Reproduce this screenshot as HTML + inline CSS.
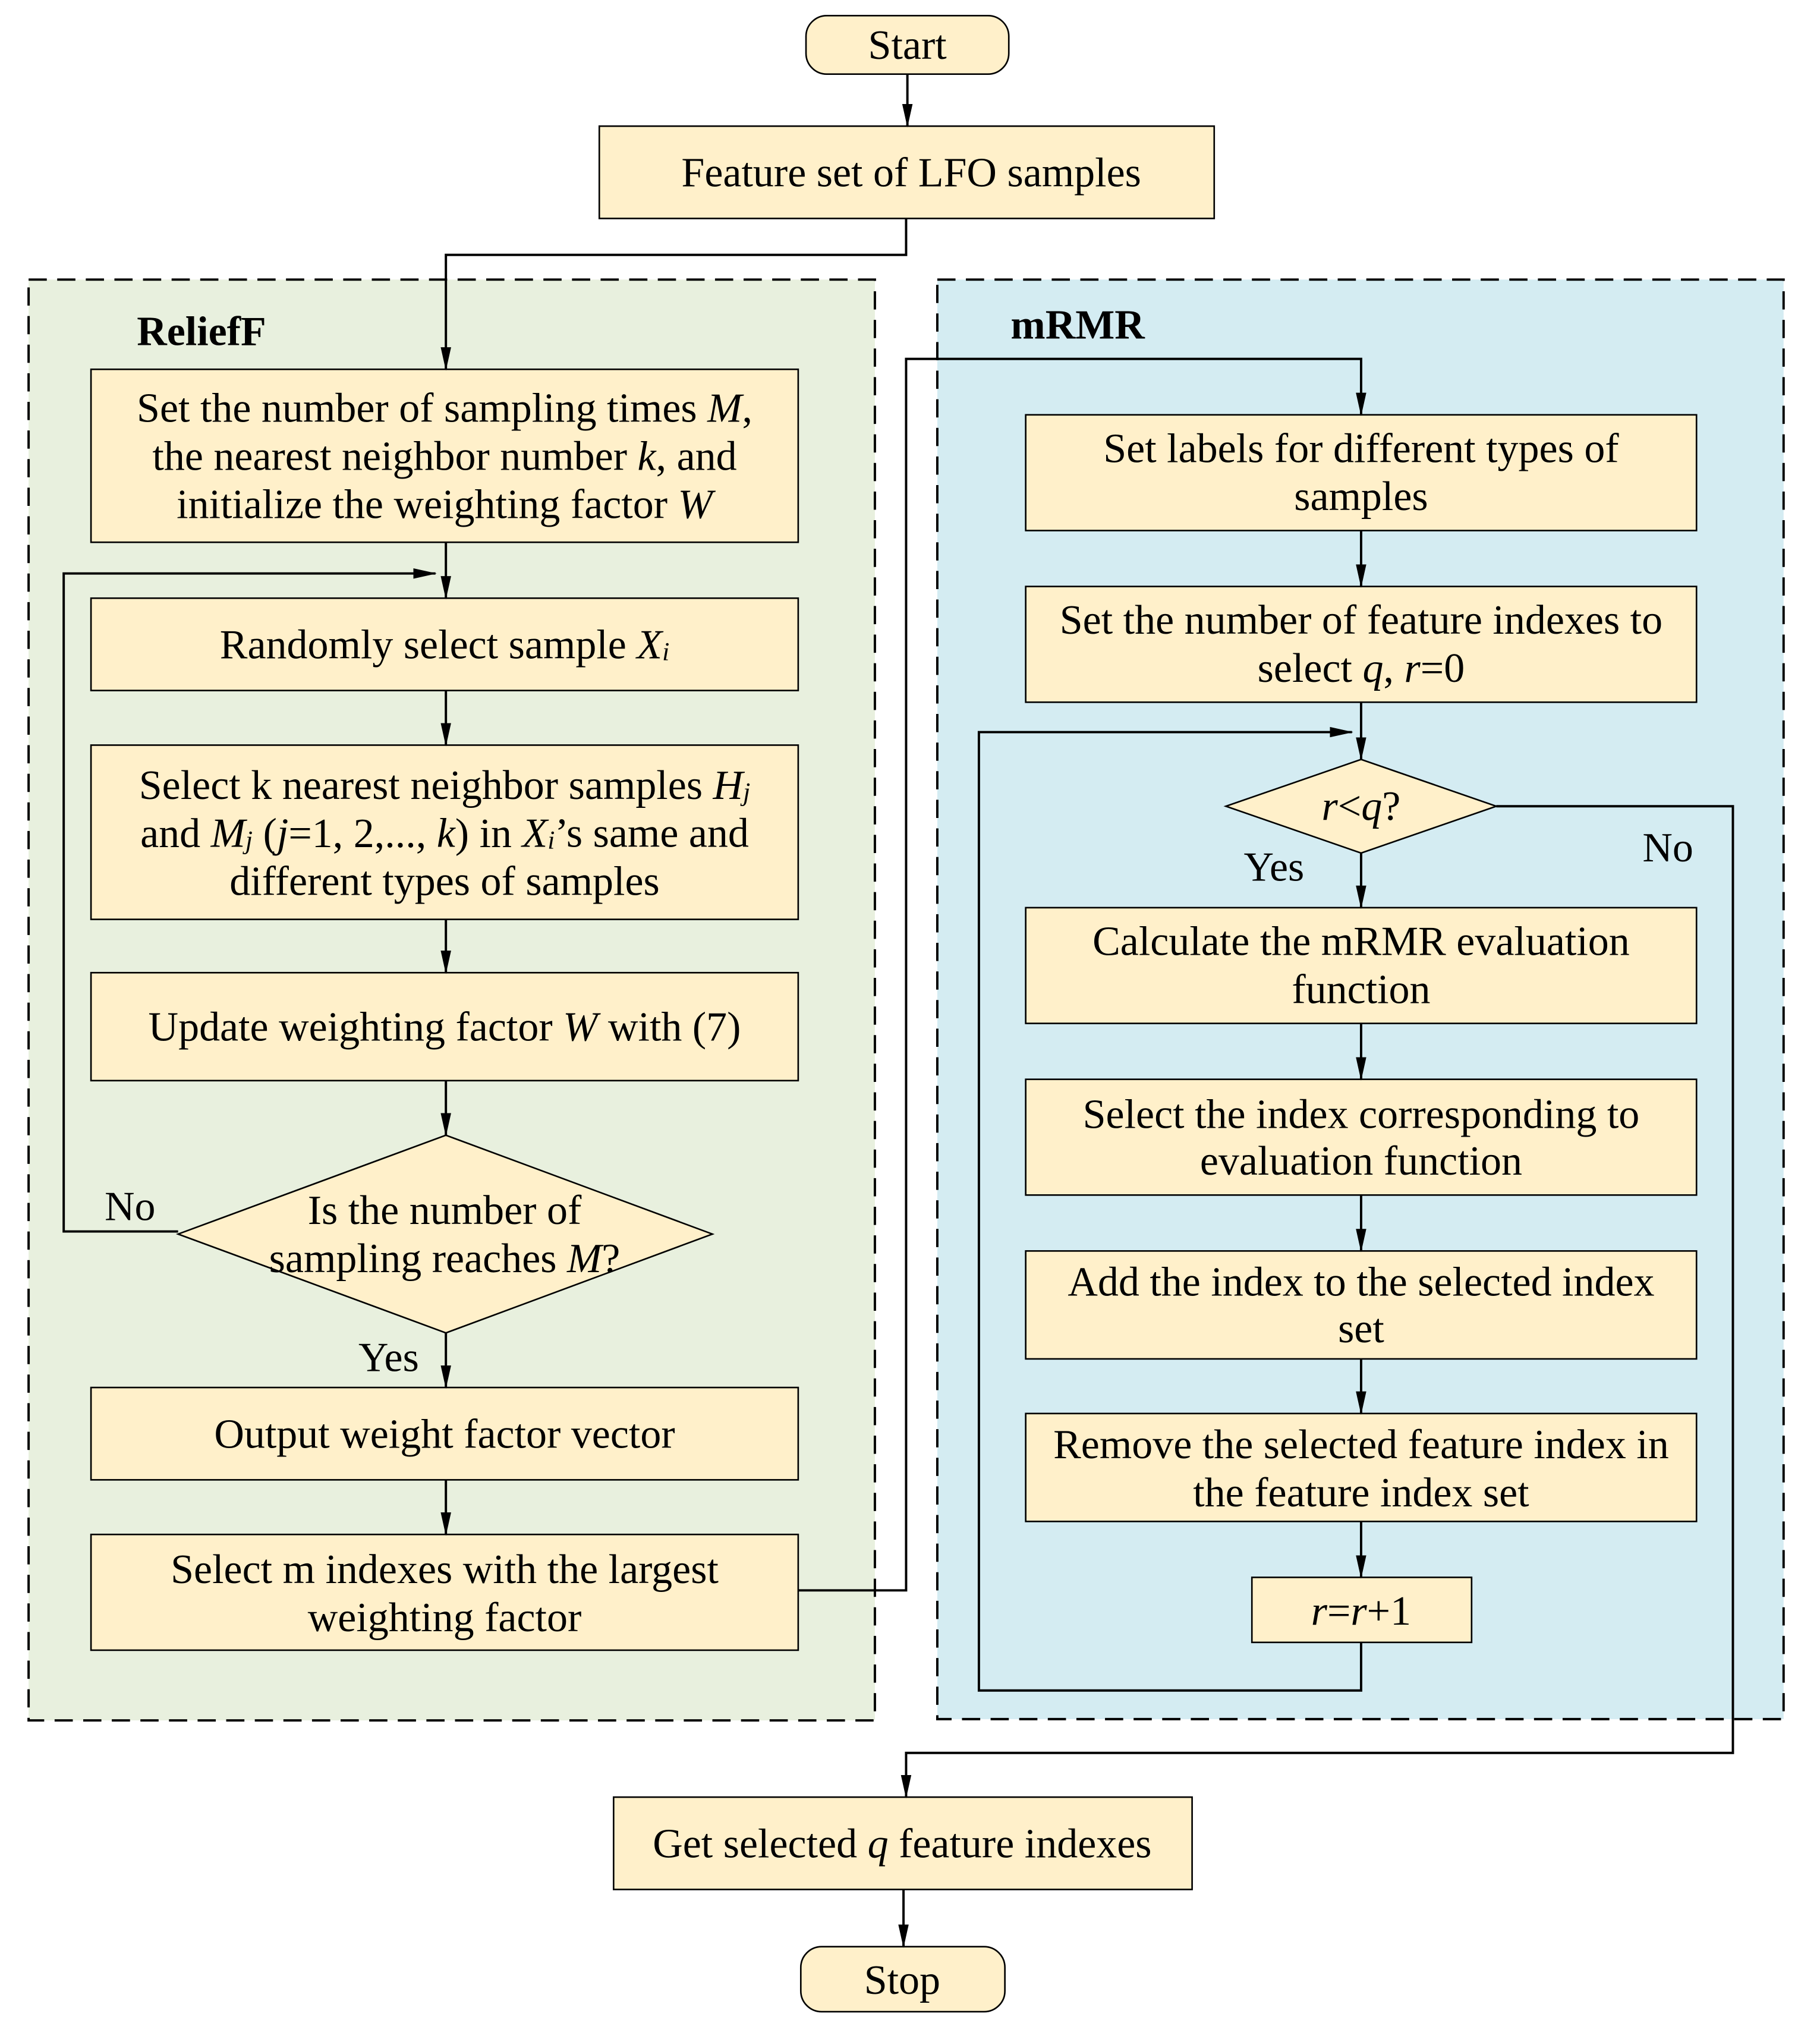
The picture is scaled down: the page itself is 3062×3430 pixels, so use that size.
<!DOCTYPE html>
<html><head><meta charset="utf-8"><style>
html,body{margin:0;padding:0;background:#fff;}
svg{display:block;}
text{font-family:"Liberation Serif",serif;font-size:32px;fill:#000;text-anchor:middle;dominant-baseline:middle;transform:translateY(3px);}
.i{font-style:italic;}
.b{fill:#FFF0CA;stroke:#000;stroke-width:1.2;}
.l{fill:none;stroke:#000;stroke-width:1.8;}
</style></head><body>
<svg width="3062" height="3430" viewBox="0 0 1400 1568" preserveAspectRatio="none" xmlns="http://www.w3.org/2000/svg">
<defs>
<marker id="h" markerWidth="18" markerHeight="10" refX="17" refY="5" orient="auto" markerUnits="userSpaceOnUse"><path d="M0,1 L18,5 L0,9 z" fill="#000"/></marker></defs>
<rect x="22" y="215" width="651" height="1108" fill="#E8F0DE" stroke="#000" stroke-width="1.8" stroke-dasharray="14,8"/>
<rect x="721" y="215" width="651" height="1107" fill="#D4ECF2" stroke="#000" stroke-width="1.8" stroke-dasharray="14,8"/>
<text x="155" y="255" style="font-weight:bold">ReliefF</text>
<text x="829" y="250" style="font-weight:bold">mRMR</text>
<rect class="b" x="620" y="12" width="156" height="45" rx="16"/><text x="698" y="35">Start</text>
<rect class="b" x="461" y="97" width="473" height="71"/><text x="701" y="133">Feature set of LFO samples</text>
<rect class="b" x="70" y="284" width="544" height="133"/>
<text x="342" y="314">Set the number of sampling times <tspan class="i">M</tspan>,</text>
<text x="342" y="351">the nearest neighbor number <tspan class="i">k</tspan>, and</text>
<text x="342" y="388">initialize the weighting factor <tspan class="i">W</tspan></text>
<rect class="b" x="70" y="460" width="544" height="71"/><text x="342" y="496">Randomly select sample <tspan class="i">X<tspan font-size="20" dy="4">i</tspan></tspan></text>
<rect class="b" x="70" y="573" width="544" height="134"/>
<text x="342" y="604">Select k nearest neighbor samples <tspan class="i">H<tspan font-size="20" dy="4">j</tspan></tspan></text>
<text x="342" y="641">and <tspan class="i">M<tspan font-size="20" dy="4">j</tspan></tspan><tspan dy="-4"> (</tspan><tspan class="i">j</tspan>=1, 2,..., <tspan class="i">k</tspan>) in <tspan class="i">X<tspan font-size="20" dy="4">i</tspan></tspan><tspan dy="-4">’s same and</tspan></text>
<text x="342" y="678">different types of samples</text>
<rect class="b" x="70" y="748" width="544" height="83"/><text x="342" y="790">Update weighting factor <tspan class="i">W</tspan> with  (7)</text>
<polygon class="b" points="343,873 548,949 343,1025 137,949"/>
<text x="342" y="931">Is the number of</text>
<text x="342" y="968">sampling reaches <tspan class="i">M</tspan>?</text>
<text x="100" y="928">No</text><text x="299" y="1044">Yes</text>
<rect class="b" x="70" y="1067" width="544" height="71"/><text x="342" y="1103">Output weight factor vector</text>
<rect class="b" x="70" y="1180" width="544" height="89"/>
<text x="342" y="1207">Select m indexes with the largest</text>
<text x="342" y="1244">weighting factor</text>
<rect class="b" x="789" y="319" width="516" height="89"/><text x="1047" y="345">Set labels for different types of</text><text x="1047" y="382">samples</text>
<rect class="b" x="789" y="451" width="516" height="89"/><text x="1047" y="477">Set the number of feature indexes to</text><text x="1047" y="514">select <tspan class="i">q</tspan>, <tspan class="i">r</tspan>=0</text>
<polygon class="b" points="1047,584 1151,620 1047,656 943,620"/>
<text x="1047" y="620"><tspan class="i">r</tspan>&lt;<tspan class="i">q</tspan>?</text>
<text x="980" y="667">Yes</text><text x="1283" y="652">No</text>
<rect class="b" x="789" y="698" width="516" height="89"/><text x="1047" y="724">Calculate the mRMR evaluation</text><text x="1047" y="761">function</text>
<rect class="b" x="789" y="830" width="516" height="89"/><text x="1047" y="857">Select the index corresponding to</text><text x="1047" y="893">evaluation function</text>
<rect class="b" x="789" y="962" width="516" height="83"/><text x="1047" y="986">Add the index to the selected index</text><text x="1047" y="1022">set</text>
<rect class="b" x="789" y="1087" width="516" height="83"/><text x="1047" y="1111">Remove the selected feature index in</text><text x="1047" y="1148">the feature index set</text>
<rect class="b" x="963" y="1213" width="169" height="50"/><text x="1047" y="1239"><tspan class="i">r</tspan>=<tspan class="i">r</tspan>+1</text>
<rect class="b" x="472" y="1382" width="445" height="71"/><text x="694" y="1418">Get selected <tspan class="i">q</tspan> feature indexes</text>
<rect class="b" x="616" y="1497" width="157" height="50" rx="16"/><text x="694" y="1523">Stop</text>
<g class="l" marker-end="url(#h)">
<path d="M698,57 V97"/>
<path d="M697,168 V196 H343 V284"/>
<path d="M343,417 V460"/>
<path d="M137,947 H49 V441 H335"/>
<path d="M343,531 V573"/>
<path d="M343,707 V748"/>
<path d="M343,831 V873"/>
<path d="M343,1025 V1067"/>
<path d="M343,1138 V1180"/>
<path d="M614,1223 H697 V276 H1047 V319"/>
<path d="M1047,408 V451"/>
<path d="M1047,540 V584"/>
<path d="M1047,1263 V1300 H753 V563 H1040"/>
<path d="M1047,656 V698"/>
<path d="M1047,787 V830"/>
<path d="M1047,919 V962"/>
<path d="M1047,1045 V1087"/>
<path d="M1047,1170 V1213"/>
<path d="M1151,620 H1333 V1348 H697 V1382"/>
<path d="M695,1453 V1497"/>
</g>
</svg>
</body></html>
